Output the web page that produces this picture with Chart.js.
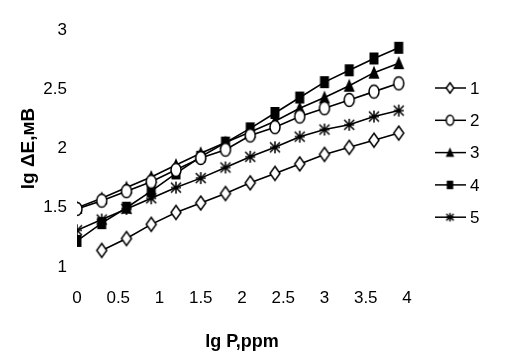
<!DOCTYPE html>
<html>
<head>
<meta charset="utf-8">
<script src="https://cdn.jsdelivr.net/npm/chart.js@4/dist/chart.umd.min.js"></script>
<style>
  html, body { margin: 0; padding: 0; background: #fff; }
  #wrap { width: 510px; height: 361px; }
</style>
</head>
<body>
<div id="wrap"><canvas id="myChart" width="510" height="361"></canvas></div>
<script>
// data
const xValues = [0, 0.3, 0.6, 0.9, 1.2, 1.5, 1.8, 2.1, 2.4, 2.7, 3.0, 3.3, 3.6, 3.9];
const series1 = [null, 1.14, 1.24, 1.36, 1.46, 1.54, 1.62, 1.71, 1.79, 1.87, 1.95, 2.01, 2.07, 2.13];
const series2 = [1.49, 1.56, 1.64, 1.72, 1.82, 1.92, 1.99, 2.11, 2.18, 2.27, 2.34, 2.41, 2.48, 2.55];
const series3 = [1.50, 1.58, 1.67, 1.76, 1.86, 1.96, 2.05, 2.14, 2.23, 2.34, 2.43, 2.53, 2.64, 2.72];
const series4 = [1.22, 1.37, 1.50, 1.64, 1.79, 1.93, 2.05, 2.17, 2.30, 2.43, 2.56, 2.66, 2.76, 2.85];
const series5 = [1.31, 1.40, 1.49, 1.58, 1.67, 1.75, 1.84, 1.93, 2.01, 2.10, 2.16, 2.20, 2.27, 2.32];
const seriesNames = ["1", "2", "3", "4", "5"];
const xTicks = [0, 0.5, 1, 1.5, 2, 2.5, 3, 3.5, 4];
const yTicks = [1, 1.5, 2, 2.5, 3];

// marker images (slightly taller than wide, like the scan)
function makeMarker(kind, s) {
    const w = Math.round(14 * s), h = Math.round(18 * s);
    const c = document.createElement("canvas");
    c.width = w; c.height = h;
    const g = c.getContext("2d");
    const cx = w / 2, cy = h / 2;
    const hw = 5 * s, hh = 7 * s;
    g.lineWidth = 1.5;
    g.strokeStyle = "#000";
    g.fillStyle = "#000";
    g.beginPath();
    if (kind === "diamond") {
        g.moveTo(cx, cy - hh); g.lineTo(cx + hw, cy); g.lineTo(cx, cy + hh); g.lineTo(cx - hw, cy); g.closePath();
        g.fillStyle = "#fff"; g.fill(); g.stroke();
    } else if (kind === "circle") {
        g.ellipse(cx, cy, hw, hh - 0.5 * s, 0, 0, Math.PI * 2);
        g.fillStyle = "#fff"; g.fill(); g.stroke();
    } else if (kind === "triangle") {
        g.moveTo(cx, cy - hh); g.lineTo(cx + hw + 0.5, cy + hh - 1); g.lineTo(cx - hw - 0.5, cy + hh - 1); g.closePath();
        g.fill();
    } else if (kind === "square") {
        g.rect(cx - hw + 0.5, cy - hh + 1, 2 * hw - 1, 2 * hh - 2);
        g.fill();
    } else {
        g.moveTo(cx, cy - hh + 1); g.lineTo(cx, cy + hh - 1);
        g.moveTo(cx - hw, cy - hh + 2); g.lineTo(cx + hw, cy + hh - 2);
        g.moveTo(cx + hw, cy - hh + 2); g.lineTo(cx - hw, cy + hh - 2);
        g.moveTo(cx - hw, cy); g.lineTo(cx + hw, cy);
        g.stroke();
    }
    return c;
}

const kinds = ["diamond", "circle", "triangle", "square", "star"];
const allSeries = [series1, series2, series3, series4, series5];
const bigMarkers = kinds.map(k => makeMarker(k, 1));
const smallMarkers = kinds.map(k => makeMarker(k, 0.75));

const datasets = allSeries.map((vals, i) => ({
    label: seriesNames[i],
    data: xValues.map((x, j) => ({ x: x, y: vals[j] })),
    borderColor: "#000",
    borderWidth: 1.6,
    pointStyle: bigMarkers[i],
    pointRadius: 6,
    tension: 0,
    spanGaps: false,
}));

// legend on the right: short line with the marker, then the number
const sideLegend = {
    id: "sideLegend",
    afterDraw(chart) {
        const ctx = chart.ctx;
        ctx.save();
        ctx.font = "17px 'Liberation Sans', Arial, sans-serif";
        ctx.textBaseline = "middle";
        ctx.fillStyle = "#000";
        seriesNames.forEach((name, i) => {
            const y = 88 + i * 32.3;
            ctx.strokeStyle = "#000";
            ctx.lineWidth = 1.5;
            ctx.beginPath();
            ctx.moveTo(435, y); ctx.lineTo(466, y);
            ctx.stroke();
            const m = smallMarkers[i];
            ctx.drawImage(m, 450 - m.width / 2, y - m.height / 2);
            ctx.fillText(name, 470, y + 1);
        });
        ctx.restore();
    }
};

const fmt = v => String(v);

const ctx = document.getElementById("myChart");
Chart.defaults.font.family = "'Liberation Sans', Arial, sans-serif";
Chart.defaults.color = "#000";

new Chart(ctx, {
    type: "line",
    data: { datasets: datasets },
    options: {
        responsive: false,
        animation: false,
        layout: { padding: { left: 0, right: 103, top: 30, bottom: 4 } },
        plugins: { legend: { display: false }, tooltip: { enabled: false } },
        scales: {
            x: {
                type: "linear",
                min: 0, max: 4,
                grid: { display: false, drawTicks: false },
                border: { display: false },
                afterBuildTicks(scale) { scale.ticks = xTicks.map(v => ({ value: v })); },
                ticks: { padding: 21, font: { size: 17 }, maxRotation: 0, autoSkip: false, callback: fmt },
                title: { display: true, text: "lg P,ppm", font: { size: 18, weight: "bold" }, padding: { top: 2, bottom: 4 } }
            },
            y: {
                min: 1, max: 3,
                grid: { display: false, drawTicks: false },
                border: { display: false },
                afterBuildTicks(scale) { scale.ticks = yTicks.map(v => ({ value: v })); },
                afterFit(scale) { scale.width = 77; },
                ticks: { padding: 10, font: { size: 17 }, callback: fmt },
                title: { display: true, text: "lg ΔE,мВ", font: { size: 19, weight: "bold" }, padding: { top: 17, bottom: 0 } }
            }
        }
    },
    plugins: [sideLegend, {
        id: "bg",
        beforeDraw(chart) {
            const c = chart.ctx;
            c.save(); c.fillStyle = "#fff"; c.fillRect(0, 0, chart.width, chart.height); c.restore();
        }
    }]
});
</script>
</body>
</html>
